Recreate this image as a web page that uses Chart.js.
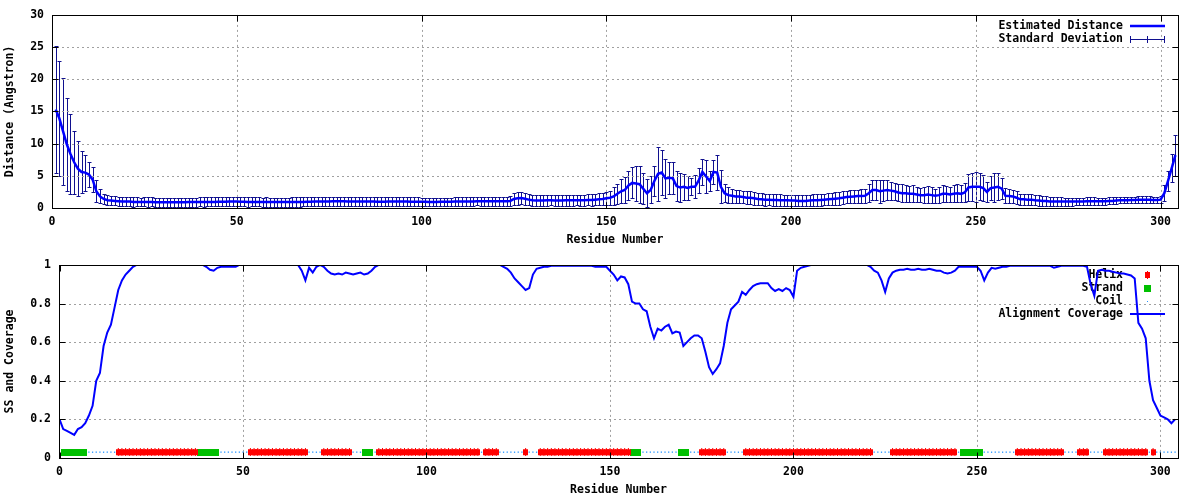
<!DOCTYPE html>
<html><head><meta charset="utf-8">
<script src="https://cdn.jsdelivr.net/npm/chart.js@4"></script>
<style>
html,body{margin:0;padding:0;background:#fff;}
canvas{position:absolute;left:0;}
#c1{top:0;}
#c2{top:250px;}
</style></head><body>
<canvas id="c1" width="1200" height="250"></canvas>
<canvas id="c2" width="1200" height="250"></canvas>
<script>
// ---------------- DATA ----------------
// Estimated distance per residue (residues 1..304)
const meanDist = [
15.3,13.9,11.9,9.9,8.4,7.1,6.1,5.6,5.5,5.2,
4.4,2.6,1.8,1.4,1.2,1.15,1.1,1.05,1.0,1.0,
1.0,0.95,0.95,0.95,0.95,0.95,0.95,0.9,0.9,0.9,
0.9,0.9,0.9,0.9,0.9,0.9,0.92,0.92,0.92,0.95,
0.95,0.95,0.95,0.95,0.97,0.97,0.97,1.0,1.0,1.0,
0.97,0.97,0.95,0.95,0.95,0.95,0.92,0.92,0.92,0.92,
0.92,0.92,0.92,0.92,0.95,0.95,0.95,0.95,0.97,0.97,
1.0,1.0,1.02,1.02,1.02,1.05,1.05,1.05,1.05,1.02,
1.02,1.02,1.0,1.0,1.0,1.0,1.0,0.98,0.98,0.98,
1.0,1.0,1.02,1.02,1.0,1.0,0.98,0.98,0.98,0.97,
0.97,0.95,0.95,0.95,0.97,0.97,0.97,0.97,1.0,1.0,
1.0,1.02,1.02,1.02,1.05,1.05,1.05,1.05,1.05,1.05,
1.05,1.05,1.05,1.1,1.4,1.5,1.55,1.45,1.3,1.2,
1.15,1.15,1.15,1.2,1.2,1.15,1.15,1.15,1.2,1.2,
1.2,1.2,1.2,1.2,1.25,1.25,1.3,1.35,1.4,1.5,
1.6,1.8,2.2,2.6,2.8,3.5,3.9,3.8,3.7,3.0,
2.3,2.8,4.2,5.3,5.5,4.6,4.7,4.6,3.4,3.2,
3.3,3.1,3.3,3.3,4.3,5.6,4.9,4.2,5.6,5.5,
3.3,2.3,2.0,1.9,1.8,1.8,1.7,1.6,1.6,1.5,
1.4,1.35,1.3,1.3,1.25,1.25,1.2,1.2,1.2,1.15,
1.15,1.1,1.1,1.1,1.15,1.2,1.2,1.25,1.3,1.35,
1.4,1.45,1.5,1.6,1.7,1.75,1.8,1.85,1.85,1.9,
2.3,2.8,2.8,2.6,2.7,2.8,2.7,2.6,2.4,2.3,
2.3,2.2,2.2,2.1,2.0,2.0,2.1,2.0,1.9,2.0,
2.2,2.2,2.1,2.2,2.3,2.2,2.4,3.2,3.3,3.3,
3.3,3.1,2.5,3.1,3.2,3.3,3.0,1.9,1.85,1.8,
1.6,1.35,1.35,1.3,1.3,1.2,1.15,1.1,1.1,1.0,
1.0,1.0,1.0,1.0,1.0,1.0,1.0,1.0,1.0,1.05,
1.05,1.05,1.05,1.05,1.05,1.1,1.1,1.15,1.2,1.2,
1.2,1.25,1.25,1.3,1.3,1.3,1.3,1.25,1.25,1.3,
2.3,4.2,6.2,8.2
];
// Standard deviation per residue (residues 1..304)
const stdDev = [
9.9,8.9,8.3,7.2,6.2,4.9,4.3,3.3,2.8,1.9,
1.9,1.7,1.1,0.8,0.75,0.75,0.7,0.7,0.7,0.7,
0.7,0.72,0.7,0.68,0.7,0.72,0.7,0.7,0.68,0.7,
0.7,0.7,0.72,0.7,0.7,0.7,0.7,0.7,0.7,0.7,
0.72,0.7,0.7,0.7,0.72,0.7,0.7,0.68,0.7,0.7,
0.7,0.7,0.72,0.7,0.7,0.7,0.7,0.72,0.7,0.7,
0.7,0.7,0.7,0.7,0.72,0.72,0.72,0.7,0.7,0.7,
0.72,0.75,0.75,0.75,0.75,0.72,0.72,0.7,0.7,0.7,
0.7,0.7,0.7,0.7,0.72,0.72,0.7,0.7,0.7,0.7,
0.7,0.7,0.72,0.72,0.7,0.7,0.7,0.7,0.7,0.65,
0.65,0.65,0.65,0.65,0.65,0.65,0.65,0.65,0.65,0.65,
0.65,0.65,0.65,0.65,0.65,0.7,0.7,0.7,0.7,0.7,
0.7,0.7,0.7,0.8,1.0,1.0,1.0,0.95,0.85,0.85,
0.85,0.8,0.85,0.85,0.8,0.85,0.85,0.8,0.85,0.85,
0.85,0.8,0.85,0.85,0.85,0.9,0.9,0.95,1.0,1.0,
1.1,1.4,1.6,1.9,2.0,2.2,2.4,2.7,2.9,2.4,
2.2,2.1,2.3,4.2,3.5,3.0,2.5,2.5,2.3,2.3,
2.0,1.8,1.3,1.8,1.9,2.0,2.5,1.6,1.9,2.7,
2.6,1.4,1.2,1.1,1.0,1.0,1.0,1.0,1.0,1.0,
1.0,0.95,0.95,0.9,0.9,0.9,0.9,0.85,0.85,0.85,
0.85,0.85,0.85,0.85,0.9,0.9,0.9,0.9,0.9,0.95,
0.95,1.0,1.0,1.0,1.0,1.0,1.0,1.0,1.05,1.1,
1.4,1.5,1.6,1.8,1.6,1.5,1.4,1.3,1.3,1.4,
1.3,1.2,1.3,1.2,1.1,1.2,1.3,1.2,1.1,1.2,
1.3,1.2,1.2,1.3,1.4,1.3,1.5,2.1,2.2,2.3,
2.1,2.0,1.6,1.9,2.2,2.1,1.6,1.2,1.1,1.0,
1.0,0.9,0.9,0.85,0.85,0.8,0.8,0.75,0.75,0.7,
0.65,0.65,0.65,0.62,0.62,0.62,0.6,0.6,0.6,0.6,
0.6,0.6,0.58,0.58,0.55,0.55,0.55,0.52,0.5,0.5,
0.5,0.5,0.5,0.5,0.5,0.5,0.5,0.5,0.5,0.5,
1.2,1.5,2.2,3.2
];
// Alignment coverage per residue (residues 0..304)
const coverage = [
0.20,0.15,0.14,0.13,0.12,0.15,0.16,0.18,0.22,0.27,
0.40,0.44,0.58,0.65,0.69,0.78,0.87,0.92,0.95,0.97,
0.99,1,1,1,1,1,1,1,1,1,
1,1,1,1,1,1,1,1,1,1,
0.99,0.975,0.97,0.985,0.99,0.99,0.99,0.99,0.99,1,
1,1,1,1,1,1,1,1,1,1,
1,1,1,1,1,1,0.97,0.92,0.985,0.96,
0.99,1,0.99,0.97,0.955,0.95,0.955,0.95,0.96,0.955,
0.95,0.955,0.96,0.95,0.955,0.97,0.99,1,1,1,
1,1,1,1,1,1,1,1,1,1,
1,1,1,1,1,1,1,1,1,1,
1,1,1,1,1,1,1,1,1,1,
1,0.99,0.98,0.96,0.93,0.91,0.89,0.87,0.88,0.95,
0.98,0.985,0.99,0.99,0.995,0.995,0.995,0.995,0.995,0.995,
0.995,0.995,0.995,0.995,0.995,0.995,0.99,0.99,0.99,0.99,
0.97,0.95,0.92,0.94,0.935,0.9,0.81,0.8,0.8,0.77,
0.76,0.68,0.62,0.67,0.66,0.68,0.69,0.645,0.655,0.65,
0.58,0.6,0.62,0.635,0.635,0.62,0.55,0.47,0.435,0.46,
0.49,0.58,0.7,0.77,0.79,0.81,0.86,0.845,0.87,0.89,
0.9,0.905,0.905,0.905,0.88,0.865,0.875,0.865,0.88,0.87,
0.835,0.97,0.985,0.99,0.995,1,1,1,1,1,
1,1,1,1,1,1,1,1,1,1,
1,0.99,0.97,0.96,0.92,0.86,0.93,0.96,0.97,0.975,
0.975,0.98,0.975,0.975,0.98,0.975,0.975,0.98,0.975,0.97,
0.97,0.96,0.955,0.96,0.97,0.99,0.99,0.99,0.99,0.99,
0.99,0.97,0.92,0.96,0.985,0.98,0.985,0.99,0.99,0.995,
0.995,0.995,0.995,0.995,0.995,0.995,0.995,0.995,0.995,0.995,
0.995,0.985,0.99,0.995,0.995,0.995,0.995,0.995,0.995,0.995,
0.99,0.9,0.84,0.97,0.975,0.97,0.97,0.965,0.96,0.955,
0.955,0.95,0.945,0.93,0.7,0.67,0.62,0.4,0.3,0.26,
0.22,0.21,0.2,0.18,0.2
];
// Secondary structure segments [type, firstResidue, lastResidue]
const ssSegments = [
['E',1,7],['C',8,15],['H',16,37],['E',38,43],['C',44,51],['H',52,67],['C',68,71],
['H',72,79],['C',80,82],['E',83,85],['C',86,86],['H',87,114],['C',115,115],['H',116,119],
['C',120,126],['H',127,127],['C',128,130],['H',131,155],['E',156,158],['C',159,168],
['E',169,171],['C',172,174],['H',175,181],['C',182,186],['H',187,221],['C',222,226],
['H',227,244],['C',245,245],['E',246,251],['C',252,260],['H',261,273],['C',274,277],
['H',278,280],['C',281,284],['H',285,296],['C',297,297],['H',298,298],['C',299,304]
];
const ssLevel = 0.03;
const xTicksTop = [0,50,100,150,200,250,300];
const yTicksTop = [0,5,10,15,20,25,30];
const xTicksBottom = [0,50,100,150,200,250,300];
const yTicksBottom = [0,0.2,0.4,0.6,0.8,1];
const legendTop = ['Estimated Distance','Standard Deviation'];
const legendBottom = ['Helix','Strand','Coil','Alignment Coverage'];

// ---------------- STYLE ----------------
const FONT_FAMILY = 'DejaVu Sans Mono';
const FONT = 'bold 11.5px "DejaVu Sans Mono"';
const LINE_BLUE = '#0000ff';
const ERR_BLUE = '#10108f';
const RED = '#ff0000', GREEN = '#00c000', COIL = '#1e90ff';

function marker(w, h, color, notch) {
  const c = document.createElement('canvas');
  c.width = w; c.height = h;
  const g = c.getContext('2d');
  g.fillStyle = color;
  if (notch) {
    g.fillRect(0, 1, w, h - 2);
    g.fillRect(Math.floor(w / 2), 0, 1, h);
  } else g.fillRect(0, 0, w, h);
  return c;
}
const helixImg = marker(5, 8, RED, true);
const strandImg = marker(4, 7, GREEN, false);
const strandKeyImg = marker(7, 7, GREEN, false);

function setTicks(arr) { return s => { s.ticks = arr.map(v => ({ value: v })); }; }

function framePlugin(o) {
  return {
    id: 'frame',
    beforeDatasetsDraw(chart) {
      const { ctx, chartArea: a, scales: { x, y } } = chart;
      ctx.save();
      ctx.strokeStyle = '#a0a0a0'; ctx.lineWidth = 1; ctx.setLineDash([2, 3]);
      ctx.beginPath();
      x.ticks.forEach(t => {
        const px = Math.round(x.getPixelForValue(t.value)) + 0.5;
        if (px > a.left + 2 && px < a.right - 2) { ctx.moveTo(px, a.top); ctx.lineTo(px, a.bottom); }
      });
      y.ticks.forEach(t => {
        const py = Math.round(y.getPixelForValue(t.value)) + 0.5;
        if (py > a.top + 2 && py < a.bottom - 2) { ctx.moveTo(a.left, py); ctx.lineTo(a.right, py); }
      });
      ctx.stroke();
      ctx.setLineDash([]);
      // legend
      ctx.font = FONT; ctx.fillStyle = '#000'; ctx.textAlign = 'right'; ctx.textBaseline = 'middle';
      o.legend(ctx);
      ctx.restore();
    },
    afterDraw(chart) {
      const { ctx, chartArea: a, scales: { x, y } } = chart;
      ctx.save();
      ctx.strokeStyle = '#000'; ctx.lineWidth = 1;
      const L = Math.round(a.left) + 0.5, R = Math.round(a.right) + 0.5, T = Math.round(a.top) + 0.5, B = Math.round(a.bottom) + 0.5;
      ctx.strokeRect(L, T, R - L, B - T);
      const tl = 6;
      ctx.beginPath();
      x.ticks.forEach(t => {
        const px = Math.round(x.getPixelForValue(t.value)) + 0.5;
        ctx.moveTo(px, B); ctx.lineTo(px, B - tl); ctx.moveTo(px, T); ctx.lineTo(px, T + tl);
      });
      y.ticks.forEach(t => {
        const py = Math.round(y.getPixelForValue(t.value)) + 0.5;
        ctx.moveTo(L, py); ctx.lineTo(L + tl, py); ctx.moveTo(R, py); ctx.lineTo(R - tl, py);
      });
      ctx.stroke();
      ctx.font = FONT; ctx.fillStyle = '#000'; ctx.textAlign = 'center'; ctx.textBaseline = 'middle';
      ctx.fillText(o.xTitle, (a.left + a.right) / 2, a.bottom + o.xTitleOff);
      ctx.translate(o.yTitleX, (a.top + a.bottom) / 2);
      ctx.rotate(-Math.PI / 2);
      ctx.fillText(o.yTitle, 0, 0);
      ctx.restore();
    }
  };
}

const errorBarPlugin = {
  id: 'errbars',
  beforeDatasetsDraw(chart) {
    const { ctx, chartArea: a, scales: { x, y } } = chart;
    ctx.save();
    ctx.beginPath(); ctx.rect(a.left, a.top - 1, a.right - a.left + 1, a.bottom - a.top + 1); ctx.clip();
    ctx.strokeStyle = ERR_BLUE; ctx.lineWidth = 1;
    ctx.beginPath();
    meanDist.forEach((m, i) => {
      const px = Math.round(x.getPixelForValue(i + 1)) + 0.5;
      const yt = Math.round(y.getPixelForValue(m + stdDev[i])) + 0.5;
      const yb = Math.round(y.getPixelForValue(m - stdDev[i])) + 0.5;
      ctx.moveTo(px, yt); ctx.lineTo(px, yb);
      ctx.moveTo(px - 2, yt); ctx.lineTo(px + 2, yt);
      ctx.moveTo(px - 2, yb); ctx.lineTo(px + 2, yb);
    });
    ctx.stroke();
    ctx.restore();
  }
};

const tickFont = { family: FONT_FAMILY, size: 11.5, weight: 'bold' };
function axes(xmin, xmax, xt, ymin, ymax, yt, yw) {
  return {
    x: { type: 'linear', min: xmin, max: xmax, afterBuildTicks: setTicks(xt),
         afterFit: s => { s.height = 42; },
         grid: { display: false, drawTicks: false }, border: { display: false },
         ticks: { font: tickFont, color: '#000', padding: 7, autoSkip: false, maxRotation: 0,
                  callback: v => String(v) } },
    y: { type: 'linear', min: ymin, max: ymax, afterBuildTicks: setTicks(yt),
         afterFit: s => { s.width = yw; },
         grid: { display: false, drawTicks: false }, border: { display: false },
         ticks: { font: tickFont, color: '#000', padding: 8, autoSkip: false,
                  callback: v => String(v) } }
  };
}

Chart.defaults.font.family = FONT_FAMILY;

// ---------------- TOP CHART ----------------
new Chart(document.getElementById('c1'), {
  type: 'line',
  data: { datasets: [{
    label: legendTop[0],
    data: meanDist.map((v, i) => ({ x: i + 1, y: v })),
    borderColor: LINE_BLUE, borderWidth: 2.5, pointRadius: 0, tension: 0, fill: false
  }] },
  options: {
    responsive: false, animation: false, devicePixelRatio: 1,
    layout: { padding: { left: 0, right: 22, top: 14, bottom: 0 } },
    plugins: { legend: { display: false }, tooltip: { enabled: false } },
    scales: axes(0, 304.7, xTicksTop, 0, 30, yTicksTop, 52)
  },
  plugins: [errorBarPlugin, framePlugin({
    xTitle: 'Residue Number', xTitleOff: 32, yTitle: 'Distance (Angstron)', yTitleX: 10,
    legend(ctx) {
      ctx.fillText(legendTop[0], 1123, 26);
      ctx.fillText(legendTop[1], 1123, 39);
      ctx.strokeStyle = LINE_BLUE; ctx.lineWidth = 2.5;
      ctx.beginPath(); ctx.moveTo(1130, 26); ctx.lineTo(1165, 26); ctx.stroke();
      ctx.strokeStyle = ERR_BLUE; ctx.lineWidth = 1;
      ctx.beginPath();
      ctx.moveTo(1130, 39.5); ctx.lineTo(1165, 39.5);
      [1130.5, 1147.5, 1164.5].forEach(px => { ctx.moveTo(px, 36); ctx.lineTo(px, 43); });
      ctx.stroke();
    }
  })]
});

// ---------------- BOTTOM CHART ----------------
const ssPoints = { H: [], E: [], C: [] };
ssSegments.forEach(([t, a, b]) => { for (let r = a; r <= b; r++) ssPoints[t].push({ x: r, y: ssLevel }); });

new Chart(document.getElementById('c2'), {
  type: 'scatter',
  data: { datasets: [
    { label: legendBottom[0], data: ssPoints.H, pointStyle: helixImg, pointRadius: 3, showLine: false },
    { label: legendBottom[1], data: ssPoints.E, pointStyle: strandImg, pointRadius: 3, showLine: false },
    { label: legendBottom[2], data: ssPoints.C, pointStyle: 'rect', pointRadius: 0.9,
      backgroundColor: COIL, borderColor: COIL, borderWidth: 0, showLine: false },
    { label: legendBottom[3], data: coverage.map((v, i) => ({ x: i, y: v })), showLine: true,
      borderColor: LINE_BLUE, borderWidth: 2, pointRadius: 0, tension: 0, fill: false }
  ] },
  options: {
    responsive: false, animation: false, devicePixelRatio: 1,
    layout: { padding: { left: 0, right: 22, top: 13, bottom: 0 } },
    plugins: { legend: { display: false }, tooltip: { enabled: false } },
    scales: axes(-0.15, 304.8, xTicksBottom, 0, 1, yTicksBottom, 59)
  },
  plugins: [framePlugin({
    xTitle: 'Residue Number', xTitleOff: 32, yTitle: 'SS and Coverage', yTitleX: 10,
    legend(ctx) {
      const ys = [25, 38, 51, 64];
      legendBottom.forEach((t, i) => ctx.fillText(t, 1123, ys[i]));
      ctx.drawImage(helixImg, 1145, ys[0] - 4);
      ctx.drawImage(strandKeyImg, 1144, ys[1] - 3.5);
      ctx.fillStyle = COIL; ctx.fillRect(1147, ys[2], 1, 1);
      ctx.strokeStyle = LINE_BLUE; ctx.lineWidth = 2;
      ctx.beginPath(); ctx.moveTo(1130, ys[3]); ctx.lineTo(1165, ys[3]); ctx.stroke();
    }
  })]
});
</script>
</body></html>
